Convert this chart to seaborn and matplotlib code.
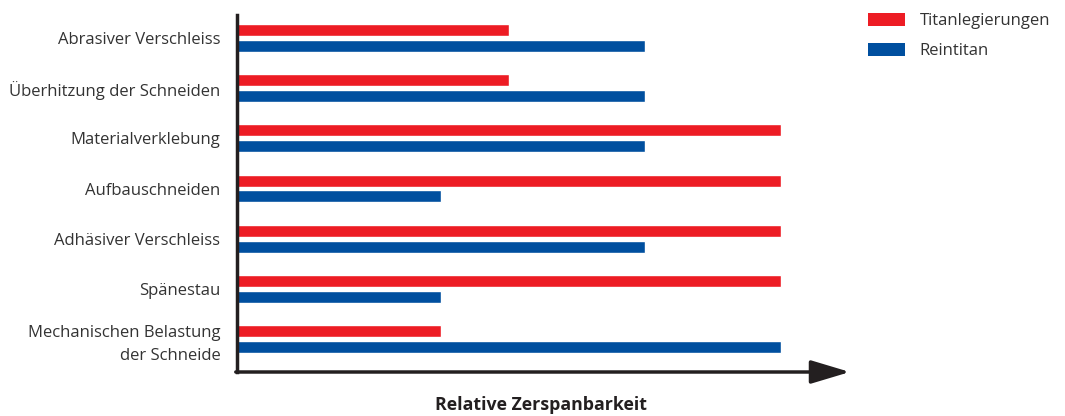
import matplotlib
matplotlib.use("Agg")
import matplotlib.pyplot as plt
import seaborn as sns
import pandas as pd
from matplotlib.patches import Patch

categories = ["Abrasiver Verschleiss", "Überhitzung der Schneiden", "Materialverklebung",
              "Aufbauschneiden", "Adhäsiver Verschleiss", "Spänestau",
              "Mechanischen Belastung\nder Schneide"]
titanlegierungen = [2, 2, 4, 4, 4, 4, 1.5]
reintitan = [3, 3, 3, 1.5, 3, 1.5, 4]
series_names = ["Titanlegierungen", "Reintitan"]
colors = ["#ED1C24", "#004F9F"]
xlabel = "Relative Zerspanbarkeit"

sns.set_theme(style="white")
plt.rcParams['font.family'] = ['Open Sans', 'DejaVu Sans']

df = pd.DataFrame({
    "Kategorie": categories * 2,
    "Wert": titanlegierungen + reintitan,
    "Serie": [series_names[0]] * len(categories) + [series_names[1]] * len(categories),
})

fig = plt.figure(figsize=(10.65, 4.16), dpi=100)
ax = fig.add_axes([237/1065, 1 - 372/416, (845 - 237)/1065, (372 - 15)/416])

sns.barplot(data=df, y="Kategorie", x="Wert", hue="Serie", orient="h",
            palette=colors, width=0.634, gap=0.25, ax=ax, legend=False,
            saturation=1)

ax.set_xlim(0, 608/136)
ax.set_ylim(6.657, -0.458)
ax.set_xticks([])
ax.set_ylabel("")
ax.set_xlabel(xlabel, fontsize=12.8, fontweight="bold", labelpad=17, color="#231F20")
ax.tick_params(axis="y", length=0, pad=12, labelsize=12, labelcolor="#333333")
for lbl in ax.get_yticklabels():
    lbl.set_horizontalalignment("right")
    lbl.set_multialignment("right")
    lbl.set_linespacing(1.6)

for s in ["top", "right", "bottom"]:
    ax.spines[s].set_visible(False)
ax.spines["left"].set_color("#231F20")
ax.spines["left"].set_linewidth(2.5)

ax.annotate("", xy=(1.008, 0), xycoords="axes fraction",
            xytext=(-0.002, 0), textcoords="axes fraction",
            arrowprops=dict(arrowstyle="-|>,head_length=2.0,head_width=0.6",
                            color="#231F20", lw=2.5, shrinkA=0, shrinkB=0))

handles = [Patch(facecolor=c, edgecolor="none") for c in colors]
fig.legend(handles, series_names, loc="upper left", bbox_to_anchor=(853/1065, 1 + 2/416),
           frameon=False, fontsize=12, handlelength=2.2, handleheight=0.8,
           labelspacing=0.85, handletextpad=0.9, labelcolor="#333333")

fig.savefig("out.png", dpi=100)
